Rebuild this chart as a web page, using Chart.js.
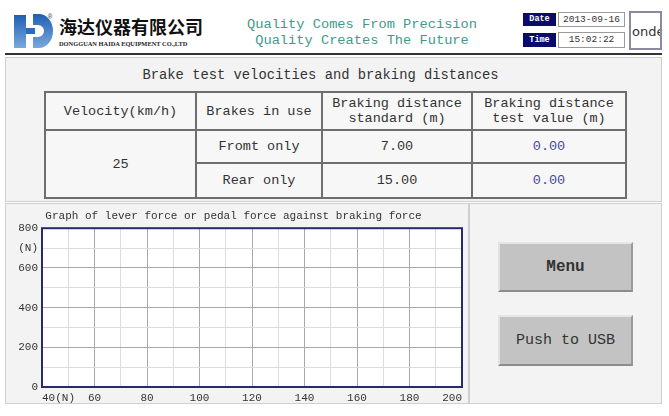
<!DOCTYPE html>
<html>
<head>
<meta charset="utf-8">
<script src="https://cdn.jsdelivr.net/npm/chart.js@4.4.1/dist/chart.umd.min.js"></script>
<style>
    body { margin: 0; width: 669px; height: 416px; background: #fff; position: relative; overflow: hidden; font-family: "Liberation Mono", monospace; color: #333; }
    .abs { position: absolute; }
    .panel { position: absolute; background: #f3f3f3; border: 1px solid #cfcfcf; box-sizing: border-box; }
    #brand { left: 59px; top: 14px; font-family: "Noto Sans CJK SC", sans-serif; font-weight: 700; font-size: 18px; letter-spacing: 0px; color: #111; line-height: 24px; }
    #brand-en { left: 59px; top: 40px; font-family: "Liberation Serif", serif; font-weight: 700; font-size: 6.4px; color: #222; white-space: nowrap; }
    .motto { left: 230px; width: 264px; text-align: center; color: #3f9a8c; font-size: 13.7px; white-space: nowrap; }
    .tag { background: #0b0b6b; color: #fff; font-size: 8.5px; font-weight: 700; text-align: center; }
    .val { background: #fff; border: 1px solid #9a9a9a; box-sizing: border-box; font-size: 9.5px; text-align: center; color: #333; }
    #info-table { position: absolute; left: 44px; top: 91px; border-collapse: collapse; table-layout: fixed; }
    #info-table td { border: 2px solid #6e6e6e; text-align: center; font-size: 13.5px; line-height: 15px; padding: 0; background: #f7f7f7; }
    #info-table td.test { color: #4848a0; }
    .btn { position: absolute; left: 498px; width: 135px; background: #c3c3c3; border-top: 2px solid #e6e6e6; border-left: 2px solid #e2e2e2; border-bottom: 2px solid #8c8c8c; border-right: 2px solid #9a9a9a; box-sizing: border-box; text-align: center; color: #333; }
    #chart-box { position: absolute; left: 5px; top: 203px; width: 463px; height: 200px; }
</style>
</head>
<body>
<!-- header -->
<svg class="abs" style="left:0;top:0" width="60" height="55">
    <defs>
        <linearGradient id="lg" x1="0" y1="0" x2="0" y2="1">
            <stop offset="0" stop-color="#1f5fb4"/>
            <stop offset="1" stop-color="#7aa9dc"/>
        </linearGradient>
    </defs>
    <rect x="14" y="15" width="12" height="33" fill="url(#lg)"/>
    <rect x="26" y="28" width="9" height="6" fill="#2d6cbc"/>
    <path d="M33,14 H39 A14,17 0 0 1 39,48 H33 V37 H38 A6,6 0 0 0 38,25 H33 Z" fill="url(#lg)"/>
    <text x="48" y="19" font-size="7" fill="#555">®</text>
</svg>
<div id="brand" class="abs">海达仪器有限公司</div>
<div id="brand-en" class="abs">DONGGUAN HAIDA EQUIPMENT CO.,LTD</div>
<div class="abs motto" style="top:17px">Quality Comes From Precision</div>
<div class="abs motto" style="top:33px">Quality Creates The Future</div>
<div class="abs tag" style="left:523px;top:13px;width:33px;height:13px;line-height:13px">Date</div>
<div class="abs tag" style="left:523px;top:33px;width:33px;height:14px;line-height:14px">Time</div>
<div class="abs val" id="date-val" style="left:558px;top:12px;width:67px;height:15px;line-height:13px"></div>
<div class="abs val" id="time-val" style="left:558px;top:32px;width:67px;height:16px;line-height:14px"></div>
<div class="abs val" style="left:629px;top:11px;width:33px;height:39px;line-height:37px;font-size:13px;font-family:'DejaVu Sans',sans-serif;overflow:hidden;text-align:left;padding-left:1px;border:2px solid #8a8aa0">onde</div>
<div class="abs" style="left:5px;top:53px;width:657px;height:2px;background:#333"></div>

<!-- upper panel: table -->
<div class="panel" style="left:5px;top:57px;width:657px;height:145px"></div>
<div id="table-title" class="abs" style="left:5px;top:68px;width:631px;text-align:center;font-size:13.8px;white-space:nowrap"></div>
<table id="info-table"></table>

<!-- lower panels -->
<div class="panel" style="left:5px;top:203px;width:464px;height:201px"></div>
<div class="panel" style="left:469px;top:203px;width:193px;height:201px"></div>
<div id="chart-box"><canvas id="force-chart"></canvas></div>
<div class="btn" style="top:242px;height:50px;line-height:46px;font-size:16px;font-weight:700">Menu</div>
<div class="btn" style="top:315px;height:51px;line-height:47px;font-size:15px">Push to USB</div>

<script>
// header values
const dateText = '2013-09-16';
const timeText = '15:02:22';

// table values
const tableTitle = 'Brake test velocities and braking distances';
const headers = ['Velocity(km/h)', 'Brakes in use', 'Braking distance<br>standard (m)', 'Braking distance<br>test value (m)'];
const velocity = '25';
const brakes = ['Fromt only', 'Rear only'];
const standardValues = ['7.00', '15.00'];
const testValues = ['0.00', '0.00'];

// chart values
const chartTitle = 'Graph of lever force or pedal force against braking force';
const xMin = 40, xMax = 200, xStep = 10;
const yMin = 0, yMax = 800, yStep = 100;
const xLabels = { 40: '40(N)', 60: '60', 80: '80', 100: '100', 120: '120', 140: '140', 160: '160', 180: '180', 200: '200' };
const yLabels = { 0: '0', 200: '200', 400: '400', 600: '600', 700: '(N)', 800: '800' };
const forcePoints = []; // no test data recorded yet

document.getElementById('date-val').textContent = dateText;
document.getElementById('time-val').textContent = timeText;
document.getElementById('table-title').textContent = tableTitle;

// build the table
const table = document.getElementById('info-table');
const widths = [151, 126, 150, 154];
let html = '<colgroup>' + widths.map(w => `<col style="width:${w}px">`).join('') + '</colgroup>';
html += '<tr style="height:38px">' + headers.map(h => `<td>${h}</td>`).join('') + '</tr>';
brakes.forEach((b, i) => {
    html += `<tr style="height:${i === 0 ? 33 : 35}px">`;
    if (i === 0) html += `<td rowspan="${brakes.length}">${velocity}</td>`;
    html += `<td>${b}</td><td>${standardValues[i]}</td><td class="test">${testValues[i]}</td></tr>`;
});
table.innerHTML = html;

// plot area background + frame
const framePlugin = {
    id: 'frame',
    beforeDraw(chart) {
        const { ctx, chartArea: a } = chart;
        ctx.save();
        ctx.fillStyle = '#ffffff';
        ctx.fillRect(a.left, a.top, a.right - a.left, a.bottom - a.top);
        ctx.restore();
    },
    afterDraw(chart) {
        const { ctx, chartArea: a } = chart;
        ctx.save();
        ctx.strokeStyle = '#2a2a6a';
        ctx.lineWidth = 2;
        ctx.strokeRect(a.left, a.top, a.right - a.left, a.bottom - a.top);
        ctx.restore();
    }
};

const tickFont = { family: 'Liberation Mono', size: 11 };

const ctx = document.getElementById('force-chart').getContext('2d');
const forceChart = new Chart(ctx, {
    type: 'scatter',
    data: {
        datasets: [{
            data: forcePoints,
            borderColor: '#2a2a6a',
            backgroundColor: '#2a2a6a',
            showLine: true
        }]
    },
    options: {
        responsive: true,
        maintainAspectRatio: false,
        animation: false,
        layout: { padding: { left: 0, right: 6, top: 0, bottom: 0 } },
        plugins: {
            legend: { display: false },
            tooltip: { enabled: false },
            title: {
                display: true,
                text: chartTitle,
                color: '#333',
                font: { family: 'Liberation Mono', size: 11, weight: 'normal' },
                padding: { top: 6, bottom: 6 }
            }
        },
        scales: {
            x: {
                type: 'linear',
                min: xMin,
                max: xMax,
                afterFit: scale => { scale.height = 16; },
                ticks: {
                    stepSize: xStep,
                    autoSkip: false,
                    maxRotation: 0,
                    align: 'inner',
                    padding: 4,
                    color: '#333',
                    font: tickFont,
                    callback: value => xLabels[value] || ''
                },
                grid: {
                    drawTicks: false,
                    color: c => (c.tick && c.tick.value % 20 === 0) ? '#a8a8a8' : '#dcdcdc'
                },
                border: { display: false }
            },
            y: {
                min: yMin,
                max: yMax,
                afterFit: scale => { scale.width = 37; },
                ticks: {
                    stepSize: yStep,
                    autoSkip: false,
                    padding: 4,
                    color: '#333',
                    font: tickFont,
                    callback: value => yLabels[value] || ''
                },
                grid: {
                    drawTicks: false,
                    color: c => (c.tick && c.tick.value % 200 === 0) ? '#a8a8a8' : '#dcdcdc'
                },
                border: { display: false }
            }
        }
    },
    plugins: [framePlugin]
});
</script>
</body>
</html>
